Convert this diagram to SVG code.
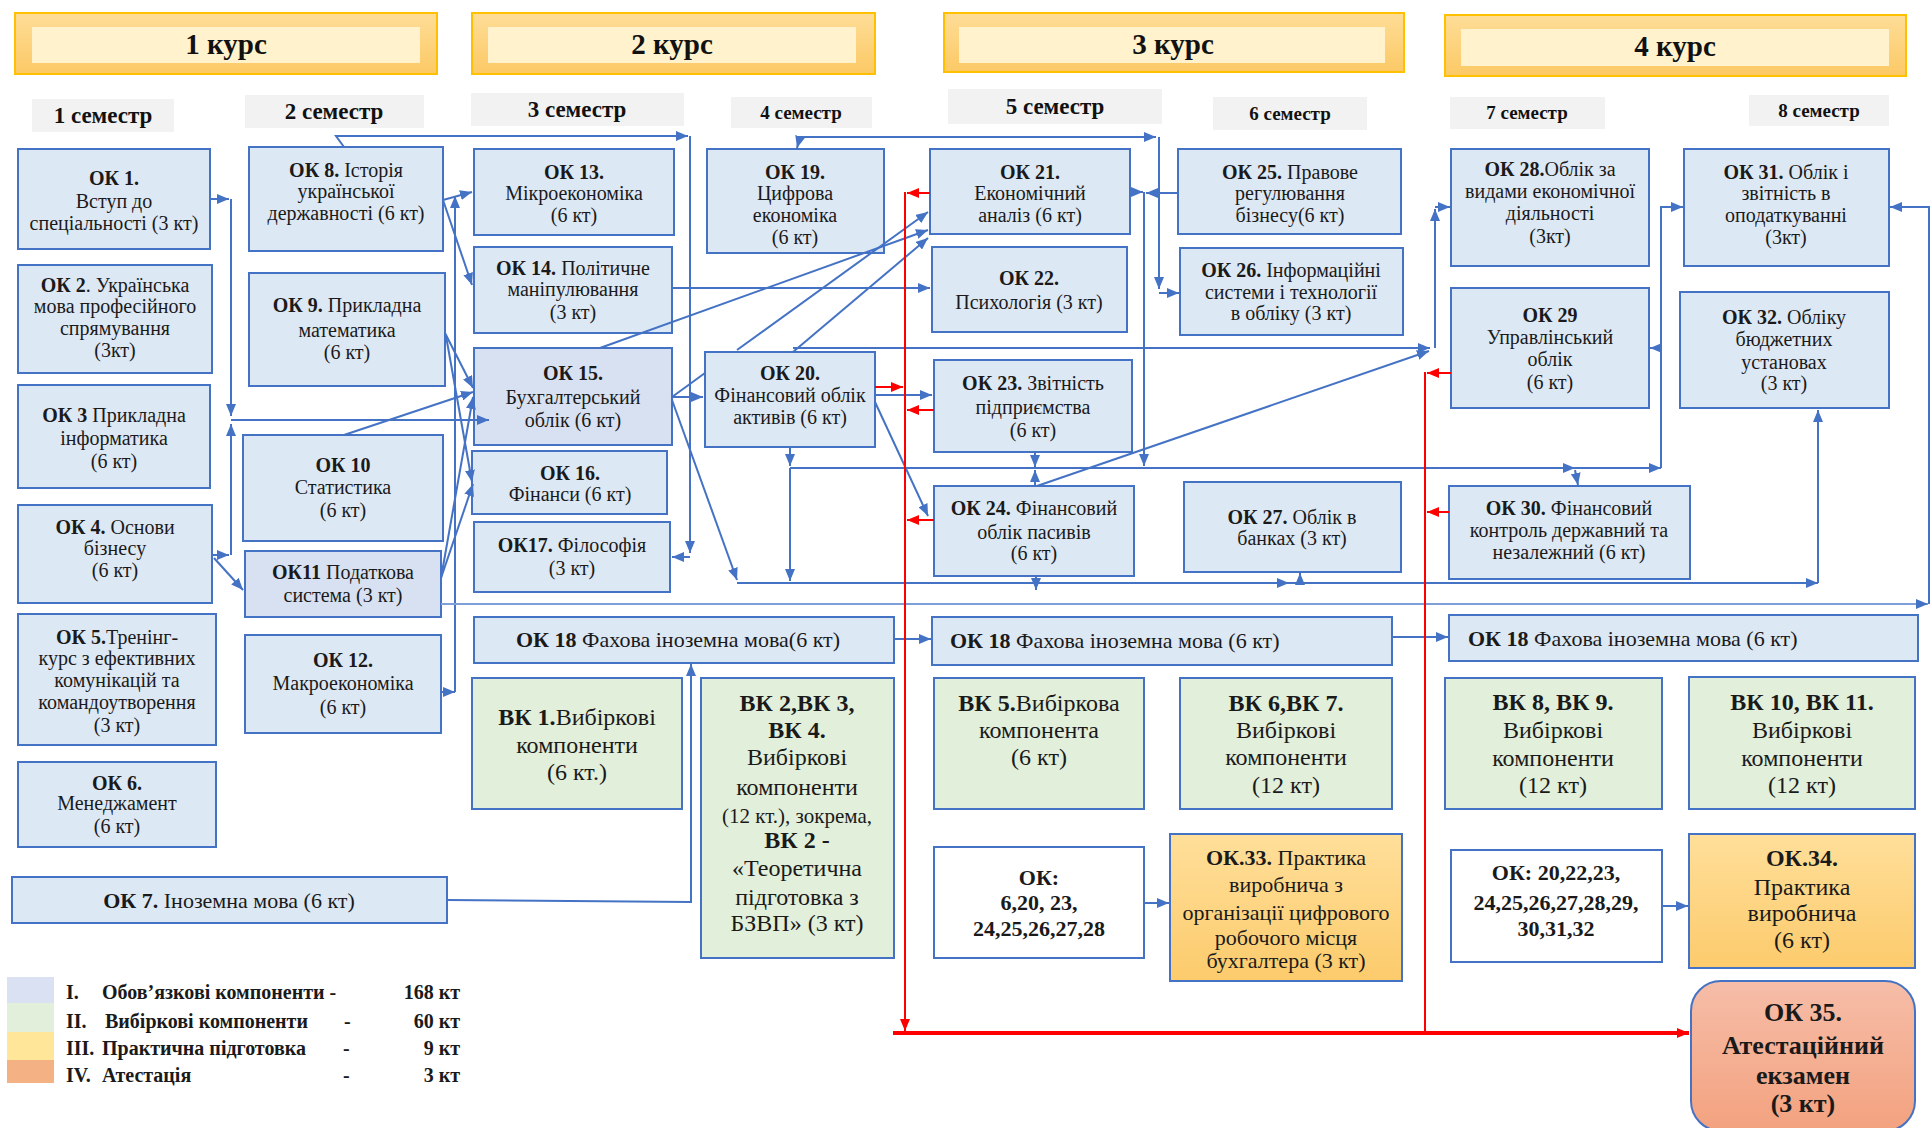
<svg xmlns="http://www.w3.org/2000/svg" width="1932" height="1128" viewBox="0 0 1932 1128">
<defs>
<linearGradient id="hg" x1="0" y1="0" x2="0" y2="1"><stop offset="0" stop-color="#fedd97"/><stop offset="1" stop-color="#fcc965"/></linearGradient>
<linearGradient id="pg" x1="0" y1="0" x2="0" y2="1"><stop offset="0" stop-color="#ffdf9a"/><stop offset="1" stop-color="#fccb6c"/></linearGradient>
<linearGradient id="ag" x1="0" y1="0" x2="0" y2="1"><stop offset="0" stop-color="#f6bda8"/><stop offset="1" stop-color="#f3a27f"/></linearGradient>
<marker id="ab" markerUnits="userSpaceOnUse" markerWidth="12" markerHeight="10" refX="12" refY="5" orient="auto-start-reverse"><path d="M0,0 L12,5 L0,10 z" fill="#4472c4"/></marker>
<marker id="ar" markerUnits="userSpaceOnUse" markerWidth="12" markerHeight="10" refX="12" refY="5" orient="auto"><path d="M0,0 L12,5 L0,10 z" fill="#ff0000"/></marker>
<style>
.hdo{fill:url(#hg);stroke:#ffc000;stroke-width:2}
.hdi{fill:#fff2cc}
.ht{font-family:"Liberation Serif",serif;font-size:29px;font-weight:bold;fill:#111;text-anchor:middle}
.sb{fill:#f2f2f2}
.st{font-family:"Liberation Serif",serif;font-size:23px;font-weight:bold;fill:#111;text-anchor:middle}
.st2{font-family:"Liberation Serif",serif;font-size:19px;font-weight:bold;fill:#111;text-anchor:middle}
.n{fill:#dde8f5;stroke:#4472c4;stroke-width:2}
.n2{fill:#d8e1f1;stroke:#4472c4;stroke-width:2}
.g{fill:#e2efda;stroke:#4472c4;stroke-width:2}
.w{fill:#ffffff;stroke:#4472c4;stroke-width:2}
.p{fill:url(#pg);stroke:#4472c4;stroke-width:2}
.a{fill:url(#ag);stroke:#4472c4;stroke-width:2}
.t{font-family:"Liberation Serif",serif;font-size:20px;fill:#1a1a1a;text-anchor:middle}
.tl{font-family:"Liberation Serif",serif;font-size:22px;fill:#1a1a1a}
.tg{font-family:"Liberation Serif",serif;font-size:24px;fill:#1a1a1a;text-anchor:middle}
.tw{font-family:"Liberation Serif",serif;font-size:22px;font-weight:bold;fill:#1a1a1a;text-anchor:middle}
.tp{font-family:"Liberation Serif",serif;font-size:22px;fill:#1a1a1a;text-anchor:middle}
.ta{font-family:"Liberation Serif",serif;font-size:26px;font-weight:bold;fill:#1a1a1a;text-anchor:middle}
.lg{font-family:"Liberation Serif",serif;font-size:20px;font-weight:bold;fill:#1a1a1a}
.b{font-weight:bold}
.c{fill:none;stroke:#4472c4;stroke-width:2}
.cl{fill:none;stroke:#7f9fd8;stroke-width:2}
.r{fill:none;stroke:#ff0000;stroke-width:2}
.rb{fill:none;stroke:#ff0000;stroke-width:4}
</style>
</defs>
<rect width="1932" height="1128" fill="#ffffff"/>

<g id="headers">
<rect class="hdo" x="15" y="13" width="422" height="61"/><rect class="hdi" x="32" y="27" width="388" height="36"/><text class="ht" x="226" y="54">1 курс</text>
<rect class="hdo" x="472" y="13" width="403" height="61"/><rect class="hdi" x="488" y="27" width="368" height="36"/><text class="ht" x="672" y="54">2 курс</text>
<rect class="hdo" x="944" y="13" width="460" height="59"/><rect class="hdi" x="959" y="27" width="426" height="36"/><text class="ht" x="1173" y="54">3 курс</text>
<rect class="hdo" x="1445" y="15" width="461" height="61"/><rect class="hdi" x="1461" y="29" width="428" height="37"/><text class="ht" x="1675" y="56">4 курс</text>
</g>

<g id="semesters">
<rect class="sb" x="32" y="99" width="142" height="33"/><text class="st" x="103" y="123">1 семестр</text>
<rect class="sb" x="245" y="95" width="179" height="33"/><text class="st" x="334" y="119">2 семестр</text>
<rect class="sb" x="471" y="93" width="213" height="33"/><text class="st" x="577" y="117">3 семестр</text>
<rect class="sb" x="731" y="97" width="141" height="31"/><text class="st2" x="801" y="119">4 семестр</text>
<rect class="sb" x="948" y="89" width="214" height="35"/><text class="st" x="1055" y="114">5 семестр</text>
<rect class="sb" x="1213" y="97" width="154" height="33"/><text class="st2" x="1290" y="120">6 семестр</text>
<rect class="sb" x="1450" y="97" width="155" height="32"/><text class="st2" x="1527" y="119">7 семестр</text>
<rect class="sb" x="1749" y="95" width="140" height="31"/><text class="st2" x="1819" y="117">8 семестр</text>
</g>

<g id="OK1"><rect class="n" x="18" y="149" width="192" height="100"/><text class="t"><tspan class="b" x="114" y="185">ОК 1.</tspan><tspan x="114" y="208">Вступ до</tspan><tspan x="114" y="230">спеціальності (3 кт)</tspan></text></g>
<g id="OK2"><rect class="n" x="18" y="265" width="194" height="108"/><text class="t"><tspan x="115" y="292"><tspan class="b">ОК 2</tspan>. Українська</tspan><tspan x="115" y="313">мова професійного</tspan><tspan x="115" y="335">спрямування</tspan><tspan x="115" y="357">(3кт)</tspan></text></g>
<g id="OK3"><rect class="n" x="18" y="385" width="192" height="103"/><text class="t"><tspan x="114" y="422"><tspan class="b">ОК 3</tspan> Прикладна</tspan><tspan x="114" y="445">інформатика</tspan><tspan x="114" y="468">(6 кт)</tspan></text></g>
<g id="OK4"><rect class="n" x="18" y="505" width="194" height="98"/><text class="t"><tspan x="115" y="534"><tspan class="b">ОК 4.</tspan> Основи</tspan><tspan x="115" y="555">бізнесу</tspan><tspan x="115" y="577">(6 кт)</tspan></text></g>
<g id="OK5"><rect class="n" x="18" y="614" width="198" height="131"/><text class="t"><tspan x="117" y="644"><tspan class="b">ОК 5.</tspan>Тренінг-</tspan><tspan x="117" y="665">курс з ефективних</tspan><tspan x="117" y="687">комунікацій та</tspan><tspan x="117" y="709">командоутворення</tspan><tspan x="117" y="732">(3 кт)</tspan></text></g>
<g id="OK6"><rect class="n" x="18" y="762" width="198" height="85"/><text class="t"><tspan class="b" x="117" y="790">ОК 6.</tspan><tspan x="117" y="810">Менеджамент</tspan><tspan x="117" y="833">(6 кт)</tspan></text></g>
<g id="OK7"><rect class="n" x="12" y="877" width="435" height="46"/><text class="tl" x="229" y="908" text-anchor="middle"><tspan class="b">ОК 7.</tspan> Іноземна мова (6 кт)</text></g>

<g id="OK8"><rect class="n" x="249" y="147" width="194" height="104"/><text class="t"><tspan x="346" y="177"><tspan class="b">ОК 8.</tspan> Історія</tspan><tspan x="346" y="198">української</tspan><tspan x="346" y="220">державності (6 кт)</tspan></text></g>
<g id="OK9"><rect class="n" x="249" y="273" width="196" height="113"/><text class="t"><tspan x="347" y="312"><tspan class="b">ОК 9.</tspan> Прикладна</tspan><tspan x="347" y="337">математика</tspan><tspan x="347" y="359">(6 кт)</tspan></text></g>
<g id="OK10"><rect class="n" x="243" y="435" width="200" height="106"/><text class="t"><tspan class="b" x="343" y="472">ОК 10</tspan><tspan x="343" y="494">Статистика</tspan><tspan x="343" y="517">(6 кт)</tspan></text></g>
<g id="OK11"><rect class="n2" x="245" y="551" width="196" height="66"/><text class="t"><tspan x="343" y="579"><tspan class="b">ОК11</tspan> Податкова</tspan><tspan x="343" y="602">система (3 кт)</tspan></text></g>
<g id="OK12"><rect class="n" x="245" y="635" width="196" height="98"/><text class="t"><tspan class="b" x="343" y="667">ОК 12.</tspan><tspan x="343" y="690">Макроекономіка</tspan><tspan x="343" y="714">(6 кт)</tspan></text></g>

<g id="OK13"><rect class="n" x="474" y="149" width="200" height="86"/><text class="t"><tspan class="b" x="574" y="179">ОК 13.</tspan><tspan x="574" y="200">Мікроекономіка</tspan><tspan x="574" y="222">(6 кт)</tspan></text></g>
<g id="OK14"><rect class="n" x="474" y="247" width="198" height="86"/><text class="t"><tspan x="573" y="275"><tspan class="b">ОК 14.</tspan> Політичне</tspan><tspan x="573" y="296">маніпулювання</tspan><tspan x="573" y="319">(3 кт)</tspan></text></g>
<g id="OK15"><rect class="n2" x="474" y="348" width="198" height="97"/><text class="t"><tspan class="b" x="573" y="380">ОК 15.</tspan><tspan x="573" y="404">Бухгалтерський</tspan><tspan x="573" y="427">облік (6 кт)</tspan></text></g>
<g id="OK16"><rect class="n" x="472" y="451" width="195" height="63"/><text class="t"><tspan class="b" x="570" y="480">ОК 16.</tspan><tspan x="570" y="501">Фінанси (6 кт)</tspan></text></g>
<g id="OK17"><rect class="n" x="474" y="522" width="196" height="70"/><text class="t"><tspan x="572" y="552"><tspan class="b">ОК17.</tspan> Філософія</tspan><tspan x="572" y="575">(3 кт)</tspan></text></g>
<g id="OK18a"><rect class="n" x="474" y="617" width="420" height="46"/><text class="tl" x="516" y="647"><tspan class="b">ОК 18</tspan> Фахова іноземна мова(6 кт)</text></g>
<g id="VK1"><rect class="g" x="472" y="678" width="210" height="131"/><text class="tg"><tspan x="577" y="725"><tspan class="b">ВК 1.</tspan>Вибіркові</tspan><tspan x="577" y="753">компоненти</tspan><tspan x="577" y="780">(6 кт.)</tspan></text></g>

<g id="OK19"><rect class="n" x="707" y="149" width="177" height="104"/><text class="t"><tspan class="b" x="795" y="179">ОК 19.</tspan><tspan x="795" y="200">Цифрова</tspan><tspan x="795" y="222">економіка</tspan><tspan x="795" y="244">(6 кт)</tspan></text></g>
<g id="OK20"><rect class="n" x="705" y="352" width="170" height="95"/><text class="t"><tspan class="b" x="790" y="380">ОК 20.</tspan><tspan x="790" y="402">Фінансовий облік</tspan><tspan x="790" y="424">активів (6 кт)</tspan></text></g>
<g id="VK2"><rect class="g" x="701" y="678" width="193" height="280"/><text class="tg"><tspan class="b" x="797" y="711">ВК 2,ВК 3,</tspan><tspan class="b" x="797" y="738">ВК 4.</tspan><tspan x="797" y="765">Вибіркові</tspan><tspan x="797" y="795">компоненти</tspan><tspan x="797" y="823" font-size="21">(12 кт.), зокрема,</tspan><tspan class="b" x="797" y="848">ВК 2 -</tspan><tspan x="797" y="876">«Теоретична</tspan><tspan x="797" y="905">підготовка з</tspan><tspan x="797" y="931">БЗВП» (3 кт)</tspan></text></g>

<g id="OK21"><rect class="n" x="930" y="149" width="200" height="85"/><text class="t"><tspan class="b" x="1030" y="179">ОК 21.</tspan><tspan x="1030" y="200">Економічний</tspan><tspan x="1030" y="222">аналіз (6 кт)</tspan></text></g>
<g id="OK22"><rect class="n" x="932" y="247" width="195" height="85"/><text class="t"><tspan class="b" x="1029" y="285">ОК 22.</tspan><tspan x="1029" y="309">Психологія (3 кт)</tspan></text></g>
<g id="OK23"><rect class="n" x="934" y="360" width="198" height="92"/><text class="t"><tspan x="1033" y="390"><tspan class="b">ОК 23.</tspan> Звітність</tspan><tspan x="1033" y="414">підприємства</tspan><tspan x="1033" y="437">(6 кт)</tspan></text></g>
<g id="OK24"><rect class="n" x="934" y="486" width="200" height="90"/><text class="t"><tspan x="1034" y="515"><tspan class="b">ОК 24.</tspan> Фінансовий</tspan><tspan x="1034" y="539">облік пасивів</tspan><tspan x="1034" y="560">(6 кт)</tspan></text></g>
<g id="OK18b"><rect class="n" x="932" y="617" width="460" height="48"/><text class="tl" x="950" y="648"><tspan class="b">ОК 18</tspan> Фахова іноземна мова (6 кт)</text></g>
<g id="VK5"><rect class="g" x="934" y="678" width="210" height="131"/><text class="tg"><tspan x="1039" y="711"><tspan class="b">ВК 5.</tspan>Вибіркова</tspan><tspan x="1039" y="738">компонента</tspan><tspan x="1039" y="765">(6 кт)</tspan></text></g>
<g id="W1"><rect class="w" x="934" y="847" width="210" height="111"/><text class="tw"><tspan x="1039" y="885">ОК:</tspan><tspan x="1039" y="910">6,20, 23,</tspan><tspan x="1039" y="936">24,25,26,27,28</tspan></text></g>

<g id="OK25"><rect class="n" x="1178" y="149" width="223" height="85"/><text class="t"><tspan x="1290" y="179"><tspan class="b">ОК 25.</tspan> Правове</tspan><tspan x="1290" y="200">регулювання</tspan><tspan x="1290" y="222">бізнесу(6 кт)</tspan></text></g>
<g id="OK26"><rect class="n" x="1180" y="248" width="223" height="87"/><text class="t"><tspan x="1291" y="277"><tspan class="b">ОК 26.</tspan> Інформаційні</tspan><tspan x="1291" y="299">системи і технології</tspan><tspan x="1291" y="320">в обліку  (3 кт)</tspan></text></g>
<g id="OK27"><rect class="n" x="1184" y="482" width="217" height="90"/><text class="t"><tspan x="1292" y="524"><tspan class="b">ОК 27.</tspan> Облік в</tspan><tspan x="1292" y="545">банках (3 кт)</tspan></text></g>
<g id="VK67"><rect class="g" x="1180" y="678" width="212" height="131"/><text class="tg"><tspan class="b" x="1286" y="711">ВК 6,ВК 7.</tspan><tspan x="1286" y="738">Вибіркові</tspan><tspan x="1286" y="765">компоненти</tspan><tspan x="1286" y="793">(12 кт)</tspan></text></g>
<g id="OK33"><rect class="p" x="1170" y="834" width="232" height="147"/><text class="tp"><tspan x="1286" y="865"><tspan class="b">ОК.33.</tspan> Практика</tspan><tspan x="1286" y="892">виробнича з</tspan><tspan x="1286" y="920">організації цифрового</tspan><tspan x="1286" y="945">робочого місця</tspan><tspan x="1286" y="968">бухгалтера (3 кт)</tspan></text></g>

<g id="OK28"><rect class="n" x="1451" y="149" width="198" height="117"/><text class="t"><tspan x="1550" y="176"><tspan class="b">ОК 28.</tspan>Облік за</tspan><tspan x="1550" y="198">видами економічної</tspan><tspan x="1550" y="220">діяльності</tspan><tspan x="1550" y="243">(3кт)</tspan></text></g>
<g id="OK29"><rect class="n" x="1451" y="288" width="198" height="120"/><text class="t"><tspan class="b" x="1550" y="322">ОК 29</tspan><tspan x="1550" y="344">Управлінський</tspan><tspan x="1550" y="366">облік</tspan><tspan x="1550" y="389">(6 кт)</tspan></text></g>
<g id="OK30"><rect class="n" x="1449" y="486" width="241" height="93"/><text class="t"><tspan x="1569" y="515"><tspan class="b">ОК 30.</tspan> Фінансовий</tspan><tspan x="1569" y="537">контроль  державний та</tspan><tspan x="1569" y="559">незалежний (6 кт)</tspan></text></g>
<g id="OK18c"><rect class="n" x="1449" y="615" width="469" height="46"/><text class="tl" x="1468" y="646"><tspan class="b">ОК 18</tspan> Фахова іноземна мова (6 кт)</text></g>
<g id="VK89"><rect class="g" x="1445" y="678" width="217" height="131"/><text class="tg"><tspan class="b" x="1553" y="710">ВК 8, ВК 9.</tspan><tspan x="1553" y="738">Вибіркові</tspan><tspan x="1553" y="766">компоненти</tspan><tspan x="1553" y="793">(12 кт)</tspan></text></g>
<g id="W2"><rect class="w" x="1451" y="850" width="211" height="112"/><text class="tw"><tspan x="1556" y="880">ОК: 20,22,23,</tspan><tspan x="1556" y="910">24,25,26,27,28,29,</tspan><tspan x="1556" y="936">30,31,32</tspan></text></g>

<g id="OK31"><rect class="n" x="1684" y="149" width="205" height="117"/><text class="t"><tspan x="1786" y="179"><tspan class="b">ОК 31.</tspan> Облік і</tspan><tspan x="1786" y="200">звітність в</tspan><tspan x="1786" y="222">оподаткуванні</tspan><tspan x="1786" y="244">(3кт)</tspan></text></g>
<g id="OK32"><rect class="n" x="1680" y="292" width="209" height="116"/><text class="t"><tspan x="1784" y="324"><tspan class="b">ОК 32.</tspan> Обліку</tspan><tspan x="1784" y="346">бюджетних</tspan><tspan x="1784" y="369">установах</tspan><tspan x="1784" y="390">(3 кт)</tspan></text></g>
<g id="VK1011"><rect class="g" x="1689" y="677" width="226" height="132"/><text class="tg"><tspan class="b" x="1802" y="710">ВК 10, ВК 11.</tspan><tspan x="1802" y="738">Вибіркові</tspan><tspan x="1802" y="766">компоненти</tspan><tspan x="1802" y="793">(12 кт)</tspan></text></g>
<g id="OK34"><rect class="p" x="1689" y="834" width="226" height="134"/><text class="tg"><tspan class="b" x="1802" y="866">ОК.34.</tspan><tspan x="1802" y="895">Практика</tspan><tspan x="1802" y="921">виробнича</tspan><tspan x="1802" y="948">(6 кт)</tspan></text></g>
<g id="OK35"><rect class="a" x="1691" y="981" width="224" height="150" rx="30" ry="30"/><text class="ta"><tspan x="1803" y="1021">ОК 35.</tspan><tspan x="1803" y="1054">Атестаційний</tspan><tspan x="1803" y="1084">екзамен</tspan><tspan x="1803" y="1112">(3 кт)</tspan></text></g>

<g id="connectors">
<path class="c" d="M344,147 L336,136 L688,136" marker-end="url(#ab)"/>
<path class="c" d="M690,136 L690,553" marker-end="url(#ab)"/>
<path class="c" d="M690,557 L672,557" marker-end="url(#ab)"/>
<path class="c" d="M210,199 L229,199" marker-end="url(#ab)"/>
<path class="c" d="M231,199 L231,416" marker-end="url(#ab)"/>
<path class="c" d="M231,420 L489,420" marker-end="url(#ab)"/>
<path class="c" d="M212,555 L229,555" marker-end="url(#ab)"/>
<path class="c" d="M231,555 L231,424" marker-end="url(#ab)"/>
<path class="c" d="M214,558 L243,590" marker-end="url(#ab)"/>
<path class="c" d="M443,200 L472,192" marker-end="url(#ab)"/>
<path class="c" d="M443,200 L472,285" marker-end="url(#ab)"/>
<path class="c" d="M441,692 L455,692" marker-end="url(#ab)"/>
<path class="c" d="M455,692 L455,196" marker-end="url(#ab)"/>
<path class="c" d="M445,333 L473,388" marker-end="url(#ab)"/>
<path class="c" d="M446,336 L472,482" marker-end="url(#ab)"/>
<path class="c" d="M344,435 L473,392" marker-end="url(#ab)"/>
<path class="c" d="M441,578 L473,397" marker-end="url(#ab)"/>
<path class="c" d="M441,578 L473,484" marker-end="url(#ab)"/>
<path class="cl" d="M441,604 L1928,604" marker-end="url(#ab)"/>
<path class="c" d="M1929,604 L1929,207 L1890,207" marker-end="url(#ab)"/>
<path class="c" d="M672,288 L930,288" marker-end="url(#ab)"/>
<path class="c" d="M600,348 L928,230" marker-end="url(#ab)"/>
<path class="c" d="M672,397 L705,373"/>
<path class="c" d="M737,350 L928,212" marker-end="url(#ab)"/>
<path class="c" d="M672,397 L703,397" marker-end="url(#ab)"/>
<path class="c" d="M672,400 L737,580" marker-end="url(#ab)"/>
<path class="c" d="M793,352 L928,238" marker-end="url(#ab)"/>
<path class="c" d="M793,348 L1430,348" marker-end="url(#ab)"/>
<path class="c" d="M1435,348 L1435,209" marker-end="url(#ab)"/>
<path class="c" d="M1435,207 L1450,207" marker-end="url(#ab)"/>
<path class="c" d="M875,395 L932,395" marker-end="url(#ab)"/>
<path class="c" d="M875,402 L928,516" marker-end="url(#ab)"/>
<path class="c" d="M790,447 L790,466" marker-end="url(#ab)"/>
<path class="c" d="M790,468 L1575,468" marker-end="url(#ab)"/>
<path class="c" d="M1575,468 L1661,468" marker-end="url(#ab)"/>
<path class="c" d="M1575,470 L1578,485" marker-end="url(#ab)"/>
<path class="c" d="M1661,468 L1661,207 L1683,207" marker-end="url(#ab)"/>
<path class="c" d="M1661,348 L1650,348" marker-end="url(#ab)"/>
<path class="c" d="M790,468 L790,581" marker-end="url(#ab)"/>
<path class="c" d="M737,583 L1289,583" marker-end="url(#ab)"/>
<path class="c" d="M1289,583 L1818,583" marker-end="url(#ab)"/>
<path class="c" d="M1818,583 L1818,410" marker-end="url(#ab)"/>
<path class="c" d="M1300,583 L1300,573" marker-end="url(#ab)"/>
<path class="c" d="M1035,452 L1035,467" marker-end="url(#ab)"/>
<path class="c" d="M1035,486 L1035,470" marker-end="url(#ab)"/>
<path class="c" d="M1036,576 L1036,590" marker-end="url(#ab)"/>
<path class="c" d="M1037,486 L1429,351" marker-end="url(#ab)"/>
<path class="c" d="M1130,192 L1143,192" marker-end="url(#ab)"/>
<path class="c" d="M1178,193 L1146,193" marker-end="url(#ab)"/>
<path class="c" d="M1144,192 L1144,466" marker-end="url(#ab)"/>
<path class="c" d="M797,148 L800,137 L1156,137" marker-start="url(#ab)" marker-end="url(#ab)"/>
<path class="c" d="M1159,137 L1159,289" marker-end="url(#ab)"/>
<path class="c" d="M1159,293 L1179,293" marker-end="url(#ab)"/>
<path class="c" d="M894,639 L931,639" marker-end="url(#ab)"/>
<path class="c" d="M1392,637 L1448,637" marker-end="url(#ab)"/>
<path class="c" d="M447,900 L691,902 L691,664" marker-end="url(#ab)"/>
<path class="c" d="M1144,903 L1169,903" marker-end="url(#ab)"/>
<path class="c" d="M1662,906 L1688,906" marker-end="url(#ab)"/>
<path class="r" d="M905,192 L905,1031" marker-end="url(#ar)"/>
<path class="r" d="M930,193 L907,193" marker-end="url(#ar)"/>
<path class="r" d="M875,387 L903,387" marker-end="url(#ar)"/>
<path class="r" d="M934,410 L907,410" marker-end="url(#ar)"/>
<path class="r" d="M934,520 L907,520" marker-end="url(#ar)"/>
<path class="rb" d="M893,1033 L1689,1033" marker-end="url(#ar)"/>
<path class="r" d="M1425,372 L1425,1033"/>
<path class="r" d="M1451,373 L1427,373" marker-end="url(#ar)"/>
<path class="r" d="M1449,512 L1427,512" marker-end="url(#ar)"/>
</g>

<g id="legend">
<rect x="7" y="977" width="47" height="26" fill="#d9e1f2"/>
<rect x="7" y="1003" width="47" height="29" fill="#e2efda"/>
<rect x="7" y="1032" width="47" height="28" fill="#ffe699"/>
<rect x="7" y="1060" width="47" height="23" fill="#f4b183"/>
<text class="lg" x="66" y="999">I.</text><text class="lg" x="102" y="999">Обов’язкові компоненти -</text><text class="lg" x="460" y="999" text-anchor="end">168 кт</text>
<text class="lg" x="66" y="1028">II.</text><text class="lg" x="105" y="1028">Вибіркові компоненти</text><text class="lg" x="344" y="1028">-</text><text class="lg" x="460" y="1028" text-anchor="end">60 кт</text>
<text class="lg" x="66" y="1055">III.</text><text class="lg" x="102" y="1055">Практична підготовка</text><text class="lg" x="343" y="1055">-</text><text class="lg" x="460" y="1055" text-anchor="end">9 кт</text>
<text class="lg" x="66" y="1082">IV.</text><text class="lg" x="102" y="1082">Атестація</text><text class="lg" x="343" y="1082">-</text><text class="lg" x="460" y="1082" text-anchor="end">3 кт</text>
</g>
</svg>
